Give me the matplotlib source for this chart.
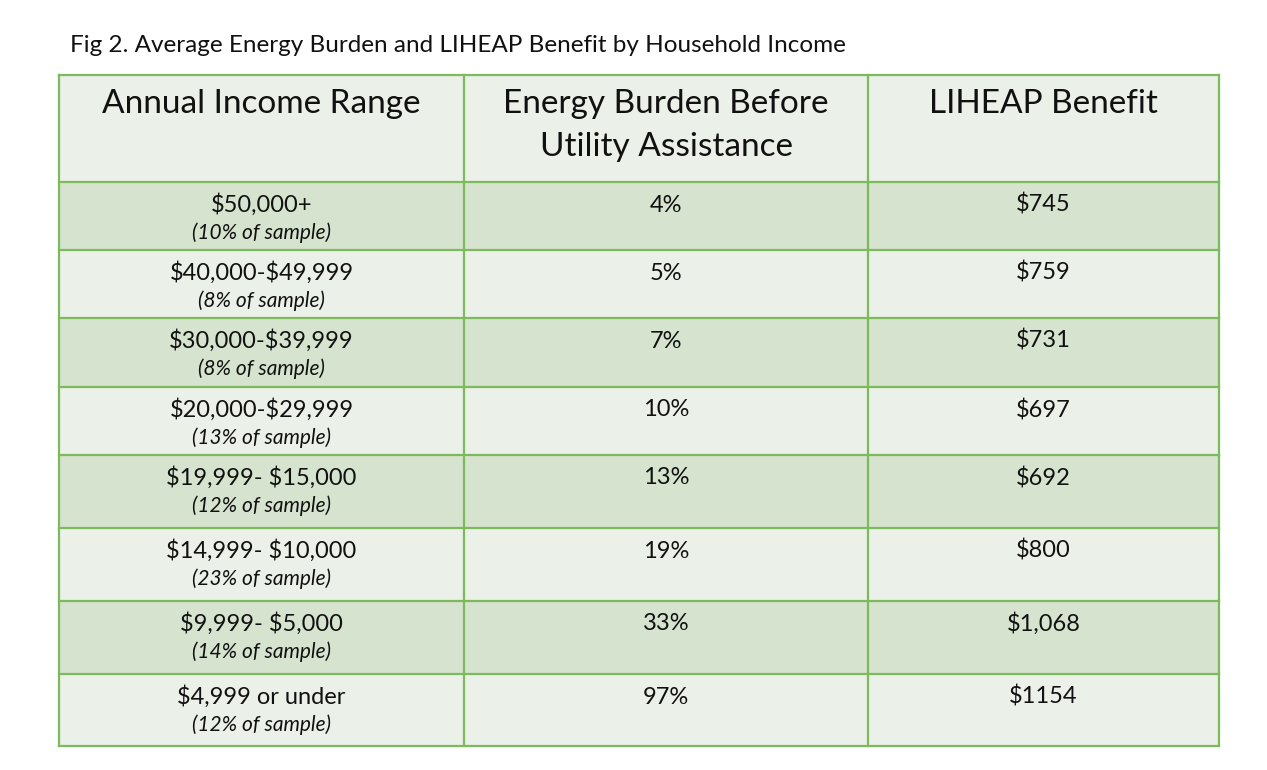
import matplotlib
matplotlib.use("Agg")
import matplotlib.pyplot as plt
from matplotlib.patches import Rectangle

plt.rcParams["text.parse_math"] = False

title = "Fig 2. Average Energy Burden and LIHEAP Benefit by Household Income"
headers = [["Annual Income Range"], ["Energy Burden Before", "Utility Assistance"], ["LIHEAP Benefit"]]
income_ranges = ["$50,000+", "$40,000-$49,999", "$30,000-$39,999", "$20,000-$29,999",
                 "$19,999- $15,000", "$14,999- $10,000", "$9,999- $5,000", "$4,999 or under"]
sample_share = ["10%", "8%", "8%", "13%", "12%", "23%", "14%", "12%"]
energy_burden = ["4%", "5%", "7%", "10%", "13%", "19%", "33%", "97%"]
liheap_benefit = ["$745", "$759", "$731", "$697", "$692", "$800", "$1,068", "$1154"]

W, H = 1267, 770
fig = plt.figure(figsize=(W / 100, H / 100), dpi=100)
ax = fig.add_axes([0, 0, 1, 1])
ax.set_xlim(0, W)
ax.set_ylim(H, 0)
ax.axis("off")

FONT = ["Lato", "DejaVu Sans"]
col_x = [59, 464, 868, 1219]
row_y = [75, 182, 250, 318, 387, 455, 528, 601, 674, 746]
light = "#EBF0E8"
dark = "#D6E3CF"
border = "#7DBA5C"

ax.text(70, 46, title, fontsize=17.5, family=FONT, va="center", ha="left", color="#111111")

# backgrounds
for r in range(len(row_y) - 1):
    color = light if (r == 0 or r % 2 == 0) else dark
    ax.add_patch(Rectangle((col_x[0], row_y[r]), col_x[-1] - col_x[0], row_y[r + 1] - row_y[r],
                           facecolor=color, edgecolor="none", zorder=1))
# grid lines
for y in row_y:
    ax.plot([col_x[0], col_x[-1]], [y, y], color=border, lw=1.6, zorder=2, solid_capstyle="projecting")
for x in col_x:
    ax.plot([x, x], [row_y[0], row_y[-1]], color=border, lw=1.6, zorder=2, solid_capstyle="projecting")

# headers
for c, lines in enumerate(headers):
    cx = (col_x[c] + col_x[c + 1]) / 2
    for k, h in enumerate(lines):
        ax.text(cx, 104 + 43 * k, h, fontsize=24, family=FONT, ha="center", va="center",
                color="#111111", zorder=3)

# rows
for i in range(len(income_ranges)):
    top = row_y[i + 1]
    cols = [income_ranges[i], energy_burden[i], liheap_benefit[i]]
    for c, txt in enumerate(cols):
        cx = (col_x[c] + col_x[c + 1]) / 2
        ax.text(cx, top + 23, txt, fontsize=17, family=FONT, ha="center", va="center",
                color="#111111", zorder=3)
    cx0 = (col_x[0] + col_x[1]) / 2
    ax.text(cx0, top + 51, "(" + sample_share[i] + " of sample)", fontsize=15, family=FONT,
            style="italic", ha="center", va="center", color="#111111", zorder=3)

fig.savefig("out.png", dpi=100, facecolor="white")
